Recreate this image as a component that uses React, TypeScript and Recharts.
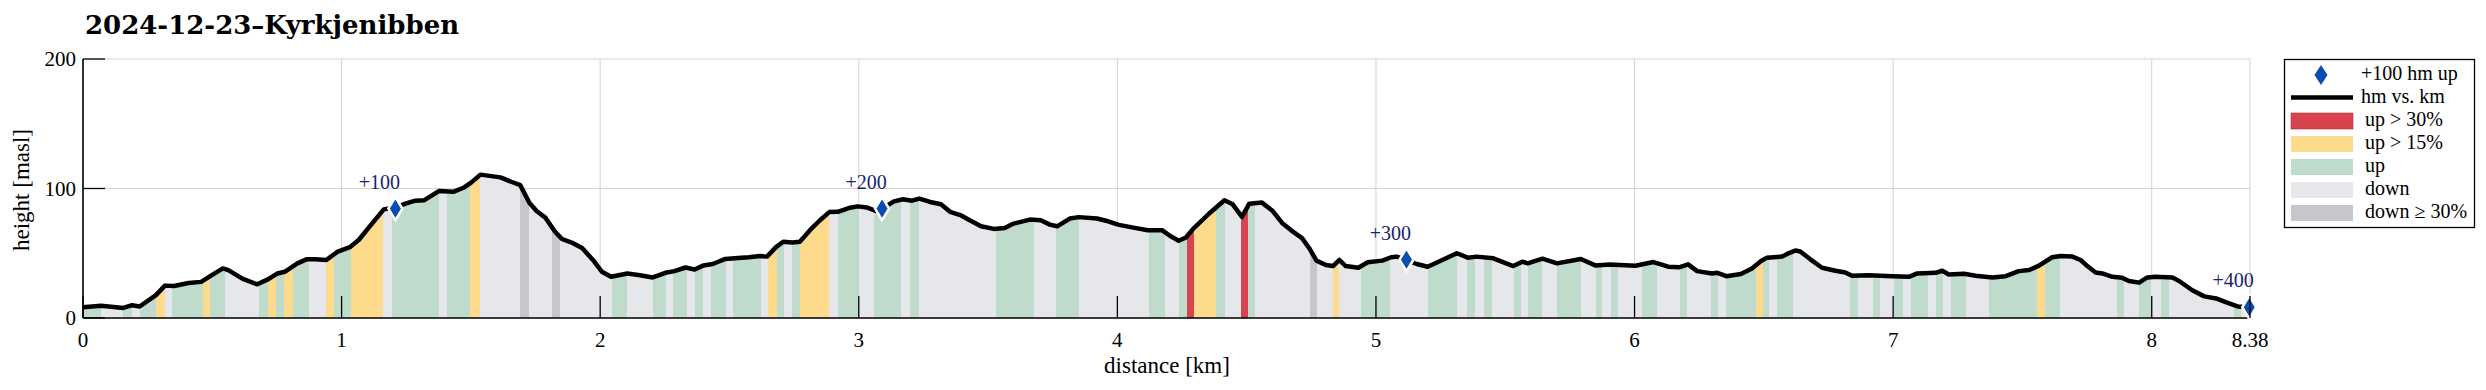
import React from 'react';
import { ComposedChart, Area, Line, Scatter, XAxis, YAxis, CartesianGrid } from 'recharts';

// ---------- data ----------
const totalKm = 8.38;

const profileKm = [
  0, 0.07, 0.156, 0.19, 0.219, 0.282, 0.317, 0.352, 0.408, 0.457, 0.492, 0.541, 0.562, 0.618, 0.674,
  0.717, 0.752, 0.78, 0.829, 0.864, 0.899, 0.941, 0.983, 1.032, 1.067, 1.109, 1.163, 1.208, 1.25,
  1.285, 1.32, 1.376, 1.432, 1.474, 1.502, 1.537, 1.614, 1.656, 1.691, 1.726, 1.754, 1.789, 1.824,
  1.852, 1.895, 1.93, 1.972, 2.007, 2.042, 2.105, 2.154, 2.203, 2.252, 2.287, 2.33, 2.365, 2.4,
  2.435, 2.484, 2.533, 2.575, 2.617, 2.645, 2.68, 2.708, 2.743, 2.772, 2.813, 2.849, 2.886, 2.919,
  2.961, 2.996, 3.031, 3.066, 3.09, 3.136, 3.171, 3.206, 3.234, 3.276, 3.318, 3.353, 3.396, 3.431,
  3.473, 3.522, 3.564, 3.599, 3.662, 3.704, 3.739, 3.767, 3.816, 3.851, 3.921, 3.964, 4.006, 4.062,
  4.118, 4.174, 4.203, 4.237, 4.265, 4.293, 4.354, 4.414, 4.446, 4.482, 4.51, 4.559, 4.601, 4.637,
  4.672, 4.714, 4.742, 4.77, 4.806, 4.834, 4.858, 4.883, 4.932, 4.968, 5.024, 5.059, 5.08, 5.118,
  5.158, 5.2, 5.242, 5.313, 5.355, 5.39, 5.454, 5.496, 5.531, 5.566, 5.587, 5.644, 5.7, 5.792,
  5.848, 5.904, 6.003, 6.073, 6.13, 6.172, 6.207, 6.242, 6.299, 6.32, 6.355, 6.411, 6.454, 6.489,
  6.512, 6.57, 6.59, 6.622, 6.641, 6.68, 6.725, 6.777, 6.815, 6.841, 6.906, 6.996, 7.061, 7.093,
  7.164, 7.19, 7.215, 7.274, 7.319, 7.383, 7.435, 7.486, 7.525, 7.564, 7.615, 7.648, 7.693, 7.725,
  7.751, 7.783, 7.809, 7.848, 7.886, 7.912, 7.951, 7.983, 8.015, 8.08, 8.106, 8.157, 8.203, 8.254,
  8.286, 8.332, 8.38,
];

const profileElev = [
  8.3, 9.4, 7.8, 9.9, 8.9, 17.7, 25, 24.7, 27, 27.9, 32.3, 38.3, 37, 30.2, 26,
  30, 34.4, 35.7, 42.2, 45.3, 45.3, 44.8, 51, 54.7, 60.4, 70.8, 83.9, 85.5, 88.5,
  90.6, 91, 98, 97.4, 100.8, 104.7, 110.7, 108.6, 105.2, 102.6, 89, 82.6, 77.3, 67,
  61, 57.8, 54, 44.8, 35.7, 31.8, 34.4, 33, 31.3, 34.9, 36.2, 39, 37.5, 40.6,
  41.7, 45.6, 46.4, 46.9, 47.9, 47.4, 54.7, 58.9, 58.3, 58.9, 68.2, 75.3, 81.8, 82,
  84.9, 86.2, 85.4, 82.6, 84.4, 90.1, 91.7, 90.6, 92.2, 89.6, 87.8, 82, 79.2, 75.3,
  70.8, 68.8, 69.5, 72.9, 76, 75.5, 72.1, 70.8, 76.8, 77.9, 76.8, 74.7, 71.9, 69.8,
  67.7, 67.7, 63.5, 59.6, 62.2, 68.8, 80.5, 90.9, 87.8, 78.1, 88.3, 89.1, 82.6, 73.4,
  67.7, 61.7, 53.9, 44.3, 40.9, 40.1, 44.8, 40.1, 38.8, 43, 44.3, 46.9, 47.4, 44.8,
  41.7, 39.6, 43.5, 50, 46.6, 47.4, 46.1, 42.7, 40.1, 43.5, 42.2, 45.8, 42.2, 45.6,
  40.6, 41.4, 40.4, 43.2, 39.6, 39.1, 41.4, 36.2, 34.4, 34.9, 32.3, 33.9, 38.3, 44,
  46.6, 47.4, 49.5, 52.1, 51.3, 45.3, 38.8, 36.5, 35.2, 32.6, 33.1, 32.3, 31.8, 34.4,
  34.9, 36.5, 33.6, 34.1, 32.6, 31.3, 32.3, 36.2, 37, 40.4, 46.9, 47.9, 47.4, 44.8,
  40.1, 35.2, 34.4, 31.8, 31, 28.6, 27.3, 31.3, 31.8, 31.3, 28.6, 21.4, 16.7, 14.8,
  12.2, 8.9, 8.3,
];

// slope bands: start km of each band (band ends where the next starts, last ends at totalKm)
const bandStartKm = [
  0, 0.07, 0.156, 0.188, 0.219, 0.282, 0.317, 0.345, 0.465, 0.49, 0.548, 0.682, 0.714, 0.745,
  0.777, 0.811, 0.874, 0.938, 0.969, 1.036, 1.16, 1.194, 1.376, 1.407, 1.498, 1.537, 1.691, 1.726,
  1.815, 1.843, 2.047, 2.105, 2.203, 2.255, 2.283, 2.337, 2.365, 2.397, 2.428, 2.487, 2.512, 2.621,
  2.648, 2.684, 2.712, 2.74, 2.774, 2.886, 2.919, 3.0, 3.059, 3.164, 3.199, 3.234, 3.529, 3.679,
  3.764, 3.851, 4.122, 4.183, 4.239, 4.269, 4.296, 4.383, 4.415, 4.479, 4.507, 4.534, 4.746, 4.772,
  4.834, 4.859, 4.942, 5.056, 5.2, 5.315, 5.352, 5.383, 5.418, 5.448, 5.535, 5.559, 5.589, 5.641,
  5.7, 5.792, 5.851, 5.876, 5.908, 5.937, 6.028, 6.087, 6.176, 6.204, 6.296, 6.324, 6.355, 6.47,
  6.496, 6.519, 6.551, 6.612, 6.835, 6.863, 6.921, 6.948, 7.003, 7.037, 7.07, 7.135, 7.164, 7.192,
  7.222, 7.28, 7.37, 7.557, 7.587, 7.644, 7.865, 7.893, 7.951, 7.996, 8.035, 8.067, 8.319, 8.347,
];

const bandKind = [
  'up', 'down', 'up', 'down', 'up', 'up15', 'down', 'up', 'up15', 'up', 'down', 'up', 'up15', 'up',
  'up15', 'up', 'down', 'up15', 'up', 'up15', 'down', 'up', 'down', 'up', 'up15', 'down', 'down30', 'down',
  'down30', 'down', 'up', 'down', 'up', 'down', 'up', 'down', 'up', 'down', 'up', 'down', 'up', 'down',
  'up15', 'up', 'down', 'up', 'up15', 'down', 'up', 'down', 'up', 'down', 'up', 'down', 'up', 'down',
  'up', 'down', 'up', 'down', 'up', 'up30', 'up15', 'up', 'down', 'up30', 'up', 'down', 'down30', 'down',
  'up15', 'down', 'up', 'down', 'up', 'down', 'up', 'down', 'up', 'down', 'up', 'down', 'up', 'down',
  'up', 'down', 'up', 'down', 'up', 'down', 'up', 'down', 'up', 'down', 'up', 'down', 'up', 'up15',
  'up', 'down', 'up', 'down', 'up', 'down', 'up', 'down', 'up', 'down', 'up', 'down', 'up', 'down',
  'up', 'down', 'up', 'up15', 'up', 'down', 'up', 'down', 'up', 'down', 'up', 'down', 'up', 'down',
];

const markerKm = [1.208, 3.09, 5.118, 8.377];
const markerElev = [84.5, 84.5, 45, 8.3];
const markerLabel = ['+100', '+200', '+300', '+400'];

const xTicks = [0, 1, 2, 3, 4, 5, 6, 7, 8, 8.38];
const yTicks = [0, 100, 200];

const legendLabels = ['+100 hm up', 'hm vs. km', 'up > 30%', 'up > 15%', 'up', 'down', 'down \u2265 30%'];

// ---------- styles ----------
const kindColor: Record<string, string> = {
  up: '#bedbcb',
  up15: '#fdda8c',
  up30: '#d9424f',
  down: '#e6e7eb',
  down30: '#c5c7cd',
};
const SERIF = '"Liberation Serif", "Times New Roman", serif';
const DIAMOND = '#0a4db0';
const NAVY = '#1a2370';

const profileData = profileKm.map((km, i) => ({ km, elev: profileElev[i] }));
const markerData = markerKm.map((km, i) => ({ km, elev: markerElev[i], label: markerLabel[i] }));

const gradientStops: { offset: number; color: string }[] = [];
bandStartKm.forEach((s, i) => {
  const e = i + 1 < bandStartKm.length ? bandStartKm[i + 1] : totalKm;
  const c = kindColor[bandKind[i]];
  gradientStops.push({ offset: s / totalKm, color: c });
  gradientStops.push({ offset: e / totalKm, color: c });
});

const fmtX = (v: number) => (Number.isInteger(v) ? String(v) : v.toFixed(2));

const XTick = (props: any) => {
  const { x, y, payload } = props;
  return (
    <g>
      <line x1={x} x2={x} y1={y} y2={y - 22} stroke="#000" strokeWidth={1.3} />
      <text x={x} y={y + 29} textAnchor="middle" fontFamily={SERIF} fontSize={21} fill="#000">
        {fmtX(payload.value)}
      </text>
    </g>
  );
};

const YTick = (props: any) => {
  const { x, y, payload } = props;
  return (
    <g>
      <line x1={x} x2={x + 22} y1={y} y2={y} stroke="#000" strokeWidth={1.3} />
      <text x={x - 7} y={y + 7} textAnchor="end" fontFamily={SERIF} fontSize={21} fill="#000">
        {payload.value}
      </text>
    </g>
  );
};

const diamondPath = (cx: number, cy: number, hw: number, hh: number) =>
  `M${cx},${cy - hh} L${cx + hw},${cy} L${cx},${cy + hh} L${cx - hw},${cy} Z`;

const MarkerShape = (props: any) => {
  const { cx, cy, payload } = props;
  if (cx == null || cy == null) return null;
  return (
    <g>
      <path d={diamondPath(cx, cy, 7, 11.5)} fill={DIAMOND} stroke="#fff" strokeWidth={2.5} />
      <text x={cx - 16} y={cy - 20} textAnchor="middle" fontFamily={SERIF} fontSize={20} fill={NAVY}>
        {payload.label}
      </text>
    </g>
  );
};

export default function App() {
  const legendX = 2284.5;
  const legendY = 59.5;
  const rowBase = [80, 103, 126, 149, 172, 195, 218];
  const patchKinds = ['up30', 'up15', 'up', 'down', 'down30'];
  return (
    <div style={{ position: 'absolute', left: 0, top: 0, width: 2486, height: 390, background: '#fff' }}>
      <ComposedChart
        width={2486}
        height={390}
        data={profileData}
        margin={{ top: 59, right: 236, bottom: 12, left: 23 }}
      >
        <defs>
          <linearGradient id="slopeFill" x1="0" y1="0" x2="1" y2="0">
            {gradientStops.map((s, i) => (
              <stop key={i} offset={s.offset} stopColor={s.color} />
            ))}
          </linearGradient>
        </defs>
        <CartesianGrid stroke="#d2d2d2" strokeWidth={1} />
        <Area
          type="linear"
          dataKey="elev"
          fill="url(#slopeFill)"
          fillOpacity={1}
          stroke="none"
          baseValue={0}
          isAnimationActive={false}
        />
        <Line
          type="linear"
          dataKey="elev"
          stroke="#000"
          strokeWidth={4.5}
          strokeLinejoin="round"
          dot={false}
          activeDot={false}
          isAnimationActive={false}
        />
        <Scatter data={markerData} dataKey="elev" shape={<MarkerShape />} isAnimationActive={false} />
        <XAxis
          type="number"
          dataKey="km"
          domain={[0, totalKm]}
          ticks={xTicks}
          interval={0}
          height={60}
          tickSize={0}
          tickMargin={0}
          tick={<XTick />}
          axisLine={{ stroke: '#000', strokeWidth: 1.6 }}
        />
        <YAxis
          type="number"
          domain={[0, 200]}
          ticks={yTicks}
          interval={0}
          width={60}
          tickSize={0}
          tickMargin={0}
          tick={<YTick />}
          axisLine={{ stroke: '#000', strokeWidth: 1.6 }}
        />
      </ComposedChart>
      <svg
        width={2486}
        height={390}
        style={{ position: 'absolute', left: 0, top: 0, pointerEvents: 'none' }}
      >
        <text x={85} y={34} fontFamily='"DejaVu Serif", serif' fontWeight="bold" fontSize={26} fill="#000">
          2024-12-23–Kyrkjenibben
        </text>
        <text
          transform="translate(29,190) rotate(-90)"
          textAnchor="middle"
          fontFamily={SERIF}
          fontSize={23}
          fill="#000"
        >
          height [masl]
        </text>
        <text x={1167} y={373} textAnchor="middle" fontFamily={SERIF} fontSize={23} fill="#000">
          distance [km]
        </text>
        <rect x={legendX} y={legendY} width={190} height={168} fill="#fff" stroke="#000" strokeWidth={1.3} />
        <path d={diamondPath(2321, 75, 6.5, 10)} fill={DIAMOND} />
        <line x1={2291} x2={2353} y1={97.5} y2={97.5} stroke="#000" strokeWidth={4.5} />
        {patchKinds.map((k, i) => (
          <rect
            key={k}
            x={2291}
            y={rowBase[i + 2] - 13}
            width={62}
            height={16}
            fill={kindColor[k]}
            stroke={k === 'up30' ? '#b8323d' : 'none'}
            strokeWidth={0.6}
          />
        ))}
        {legendLabels.map((t, i) => (
          <text
            key={t}
            x={i < 2 ? 2361 : 2365}
            y={rowBase[i]}
            fontFamily={SERIF}
            fontSize={20}
            fill="#000"
          >
            {t}
          </text>
        ))}
      </svg>
    </div>
  );
}
